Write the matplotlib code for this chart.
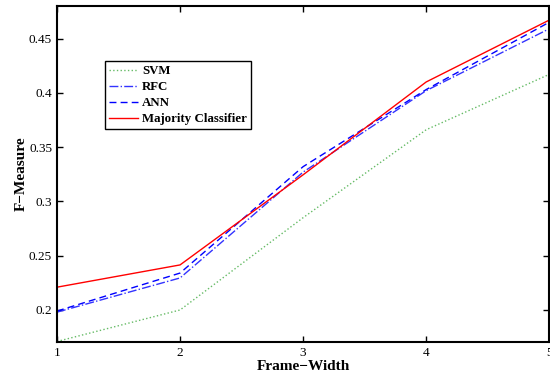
import matplotlib.pyplot as plt

plt.rcParams['font.family'] = 'Liberation Serif'

frame_width = [1, 2, 3, 4, 5]
svm = [0.171, 0.200, 0.285, 0.366, 0.417]
rfc = [0.198, 0.2295, 0.327, 0.402, 0.459]
ann = [0.199, 0.234, 0.332, 0.403, 0.465]
majority = [0.221, 0.2415, 0.3245, 0.410, 0.467]

yticks = [0.2, 0.25, 0.3, 0.35, 0.4, 0.45]
ytick_labels = ['0.2', '0.25', '0.3', '0.35', '0.4', '0.45']

fig = plt.figure(figsize=(5.5, 3.78), dpi=100)
ax = fig.add_axes([0.1036, 0.0952, 0.895, 0.889])

ax.plot(frame_width, svm, ':', color='#66bb66', lw=1, label='SVM')
ax.plot(frame_width, rfc, '-.', color='#3333ff', lw=1, label='RFC')
ax.plot(frame_width, ann, '--', color='#0000ff', lw=1, dashes=(5, 3), label='ANN')
ax.plot(frame_width, majority, '-', color='#ff0000', lw=1, label='Majority Classifier')

ax.set_xlim(1, 5)
ax.set_ylim(0.1705, 0.48)
ax.set_xticks(frame_width)
ax.set_yticks(yticks)
ax.set_yticklabels(ytick_labels)
ax.tick_params(direction='in', top=True, right=True, labelsize=9.5, length=4, width=1)
for s in ax.spines.values():
    s.set_linewidth(1.5)

ax.set_xlabel('Frame\u2212Width', fontsize=11, fontweight='bold', labelpad=1)
ax.set_ylabel('F\u2212Measure', fontsize=11, fontweight='bold', labelpad=1)

leg = ax.legend(loc='upper left', bbox_to_anchor=(0.097, 0.835), fancybox=False,
                edgecolor='black', framealpha=1, borderpad=0.3, labelspacing=0.3,
                handlelength=2.3, handletextpad=0.3, borderaxespad=0,
                prop={'weight': 'bold', 'size': 9.3})
leg.get_frame().set_linewidth(1)

fig.savefig('out.png', dpi=100)
